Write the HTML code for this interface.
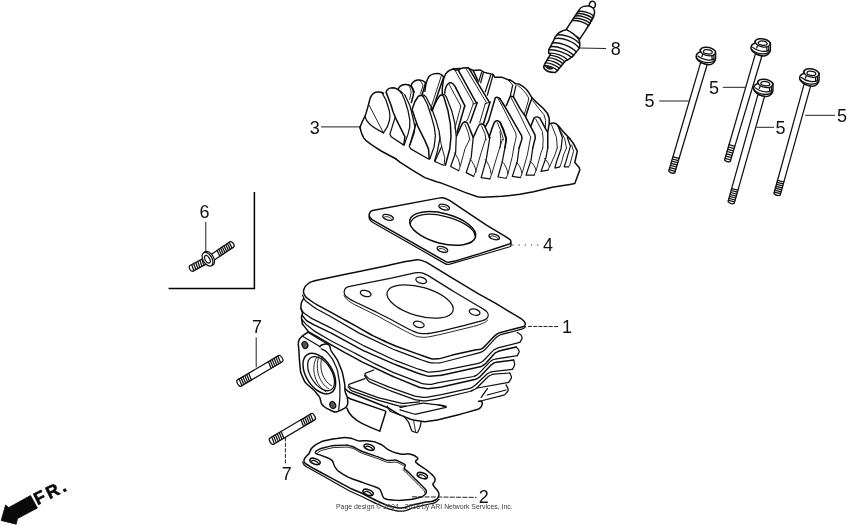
<!DOCTYPE html>
<html><head><meta charset="utf-8"><title>Cylinder</title>
<style>
html,body{margin:0;padding:0;background:#fff;}
body{width:850px;height:530px;overflow:hidden;}
svg{display:block;filter:grayscale(1);}
svg path, svg line, svg polyline, svg ellipse, svg circle, svg polygon{vector-effect:non-scaling-stroke;}
.ln{fill:none;stroke:#101010;stroke-width:1.25;stroke-linecap:round;stroke-linejoin:round;}
.lw{fill:#fff;stroke:#101010;stroke-width:1.25;stroke-linecap:round;stroke-linejoin:round;}
.tk{fill:none;stroke:#0c0c0c;stroke-width:1.5;stroke-linecap:round;stroke-linejoin:round;}
.tn{fill:none;stroke:#1c1c1c;stroke-width:0.95;stroke-linecap:round;stroke-linejoin:round;}
.th{fill:none;stroke:#222;stroke-width:0.8;stroke-linecap:round;stroke-linejoin:round;}
.ld{fill:none;stroke:#222;stroke-width:1;}
.lb{font-family:"Liberation Sans",sans-serif;font-size:18px;fill:#111;text-anchor:middle;}
.ft{font-family:"Liberation Sans",sans-serif;font-size:6.9px;fill:#3a3a3a;}
</style></head><body>
<svg width="850" height="530" viewBox="0 0 850 530">
<rect x="0" y="0" width="850" height="530" fill="#fff"/>
<g transform="translate(350,62) scale(0.124706)">
<!-- T tile (350,62) 8x : fin tops -->
<path class="tk" d="M78 529 L100 475 L122 432 L140 372 L158 305 C165 275 180 252 205 243 C225 238 250 240 268 250"/>
<path class="tk" d="M290 242 C295 220 315 207 340 206 C365 206 395 225 415 250"/>
<path class="tn" d="M340 206 C380 215 415 230 440 265"/>
<!-- fin 3 small -->
<path class="tk" d="M388 215 C395 195 415 182 440 180 C460 178 480 185 490 195 C505 215 512 240 508 265 L492 325"/>
<path class="tn" d="M468 182 C480 200 490 225 490 245 L478 300"/>
<!-- fin 4 small -->
<path class="tk" d="M490 192 C495 170 515 150 540 145 C565 140 590 150 605 165 L590 225 L578 262"/>
<path class="tn" d="M556 144 C572 158 582 175 585 190 L565 255"/>
<path class="tk" d="M490 192 C500 205 510 225 515 240"/>
<!-- fin 6 tall -->
<path class="tk" d="M600 235 C605 190 615 145 632 118 C650 95 690 88 720 95 C735 100 745 110 752 120"/>
<path class="tn" d="M735 103 L705 195 L655 350 L645 385"/>
<path class="tk" d="M752 120 L722 205 L672 355 L660 392"/>
<!-- fin 7 big central -->
<path class="tk" d="M740 262 C738 200 745 140 765 100 C780 75 810 58 850 55 L885 52"/>
<path class="tk" d="M760 250 C762 215 775 180 795 168 C815 160 835 180 850 210"/>
</g>
<g transform="translate(350,93) scale(0.124706)">
<!-- F tile (350,93) 8x -->
<path class="tk" d="M82 270 C82 290 85 310 110 360 C125 385 160 410 250 465 L370 529"/>
<path class="ln" d="M255 -5 L290 60 L315 140 C322 170 322 200 315 225 L300 270 L268 320"/>
<path class="tn" d="M155 100 L268 320"/>
<path class="ln" d="M120 188 C130 230 160 265 268 320"/>
<!-- fin 2 -->
<path class="tk" d="M290 -5 L330 100 L345 150 L375 220 L415 300 L440 350 L432 415"/>
<path class="ln" d="M362 195 L345 250 L320 330 L330 350 L432 418"/>
<path class="ln" d="M415 1 L440 60 L465 140 L480 220 L478 280 L465 330 L435 415"/>
<path class="ln" d="M440 16 L480 100 L505 200 L520 270 L515 320 L480 420"/>
<!-- fin 5 -->
<path class="tk" d="M590 32 C580 18 560 15 545 30 L520 70 L498 130 L520 200 L545 270 L600 380 L630 450 L635 529"/>
<path class="ln" d="M530 245 L475 430 L490 450 L630 529"/>
<path class="ln" d="M590 32 L620 90 L650 180 L675 270 L685 340 L675 430 L640 529"/>
<path class="ln" d="M570 18 C585 12 600 18 610 32 L650 110 L690 220 L715 310 L722 360 L700 470 L678 545"/>
<!-- fin 8 -->
<path class="tk" d="M655 140 L700 50 L720 22 C730 12 745 15 752 30 L785 140 L805 250 L810 349 L800 449 L765 579"/>
<path class="ln" d="M735 14 C750 8 765 15 772 30 L815 140 L840 240 L852 349 L847 479 L807 589 L872 624"/>
<path class="ln" d="M735 429 L680 549 L750 579"/>
<path class="tn" d="M715 330 L735 430 L760 519 L755 579"/>
</g>
<g transform="translate(350,124) scale(0.124706)">
<!-- E tile (350,124) 8x -->
<path class="tk" d="M370 282 L400 305 L500 370 L600 430 L700 465 L722 470"/>
</g>

<g transform="translate(440,62) scale(0.083037)">
<!-- 12x tile A -->
<path class="tk" d="M160 78 L183 97 L228 97 C240 82 255 75 275 73 L340 70 L352 82 L400 103 L480 95 L535 125 L640 150 L660 185 L750 185 L843 222"/>
<path class="tn" d="M180 98 L395 480 L400 506"/>
<path class="tk" d="M225 108 L430 480 L447 491"/>
<path class="tn" d="M320 90 L560 490 L545 501"/>
<path class="tk" d="M352 82 L590 478 L602 484"/>
<path class="tk" d="M193 318 L300 529 L295 539"/>
<path class="tn" d="M110 270 L250 529"/>
<path class="tk" d="M400 105 L455 220"/>
<path class="ln" d="M500 128 L465 240"/>
<path class="ln" d="M522 128 L490 250"/>
<path class="ln" d="M610 160 L545 360"/>
<path class="ln" d="M637 163 L570 400"/>
</g>
<g transform="translate(440,96) scale(0.083037)">
<!-- 12x tile B -->
<path class="tk" d="M295 130 L205 440"/>
<path class="tn" d="M250 125 L180 388"/>
<path class="tn" d="M400 97 L447 82"/>
<path class="tn" d="M400 97 L330 292 L290 318"/>
<path class="tk" d="M447 82 L362 322"/>
<path class="tn" d="M545 92 L602 75"/>
<path class="tn" d="M545 92 L478 322"/>
<path class="tk" d="M602 75 L525 332"/>
<path class="tk" d="M545 372 L585 300 L665 25 C675 12 700 10 720 30"/>
<path class="tn" d="M692 18 L736 98"/>
<path class="tk" d="M720 30 L762 98"/>
<path class="tk" d="M200 480 C230 420 255 350 275 325 C290 312 315 312 330 328 C350 370 375 440 400 500"/>
<path class="tn" d="M300 340 L340 440 L360 529"/>
<path class="tk" d="M400 500 C430 440 455 370 475 345 C490 330 520 335 535 355 C555 400 580 460 600 500"/>
<path class="tn" d="M500 360 L540 450 L555 529"/>
<path class="tk" d="M590 500 C610 440 640 340 660 310 C680 290 710 295 725 320 C750 380 780 460 800 529"/>
<path class="tn" d="M690 320 L740 440 L765 529"/>
</g>

<g transform="translate(500,70) scale(0.083037)">
<!-- 12x tile C -->
<path class="tk" d="M115 117 L140 130 L190 167 L230 170 C270 190 320 230 345 270 L385 335 L440 390 L520 460 L570 520 C590 560 600 600 592 645 L578 735"/>
<path class="tn" d="M90 108 L152 182"/>
<path class="ln" d="M152 185 L125 312"/>
<path class="ln" d="M192 188 L162 320"/>
<path class="tk" d="M162 322 L125 315 L75 430"/>
<path class="tn" d="M215 188 C260 215 310 270 345 335 L340 375 L292 535"/>
<path class="tk" d="M385 340 L350 430 L312 555"/>
<path class="tk" d="M162 325 L250 480 L300 550 L420 778 L425 818 L395 938"/>
<path class="tn" d="M135 335 L235 529 L370 809"/>
<path class="tn" d="M395 370 L470 468 L530 538 L550 608 L545 700"/>
</g>
<g transform="translate(500,104) scale(0.083037)">
<!-- 12x tile D -->
<path class="tk" d="M600 240 C620 228 645 222 670 235 L700 260 L760 330 L843 420"/>
<path class="tn" d="M14 0 L190 350 L195 400 L165 529"/>
<path class="tk" d="M40 0 L260 380 L265 420 L230 529"/>
<path class="tk" d="M370 270 L410 170 C420 155 450 150 480 170 L550 300 L575 340 L575 529"/>
<path class="tn" d="M430 180 L510 330 L520 420 L515 529"/>
<path class="tk" d="M0 220 L40 300 L75 410 L60 529"/>
<path class="tn" d="M0 330 L10 420 L0 529"/>
<path class="tn" d="M620 250 L680 400 L690 529"/>
<path class="tn" d="M700 270 L780 420 L800 529"/>
</g>

<g transform="translate(440,124) scale(0.124706)">
<!-- G tile (440,124) 8x : bottom row feet -->
<path class="tk" d="M0 470 L100 508 L200 548 L300 583 L340 588 L500 580 L640 563 L750 543 L850 519 L900 508 L1041 485 L1081 478 L1121 368 L1116 348 L1081 308 L1101 218 L1071 158 L1042 119"/>
<!-- fin A -->
<path class="tn" d="M237 125 L200 200 L165 330 L150 375"/>
<path class="ln" d="M266 112 L250 270 L210 390 L270 420"/>
<path class="tn" d="M115 230 C135 255 155 290 160 335"/>
<!-- fin B -->
<path class="tn" d="M365 122 L330 230 L290 370 L270 420"/>
<path class="ln" d="M400 108 L370 290 L330 430 L400 440"/>
<path class="tn" d="M240 280 C262 305 285 340 290 385"/>
<!-- fin C -->
<path class="tn" d="M500 125 L460 250 L415 400 L400 440"/>
<path class="ln" d="M533 125 L500 300 L465 425 L530 435"/>
<path class="tn" d="M362 285 C385 310 405 350 410 400"/>
<!-- fin D -->
<path class="tn" d="M591 192 L580 260 L545 400 L530 435"/>
<path class="ln" d="M634 192 L620 300 L580 420 L645 430"/>
<path class="tn" d="M497 300 C520 320 540 360 545 400"/>
<!-- fin E -->
<path class="tn" d="M727 106 L700 250 L660 390 L645 430"/>
<path class="ln" d="M744 192 L730 290 L690 410 L755 410"/>
<path class="tn" d="M612 308 C635 325 652 360 657 395"/>
<!-- fin F -->
<path class="tn" d="M824 192 L810 230 L775 360 L755 410"/>
<path class="ln" d="M864 192 L850 270 L810 380 L866 370"/>
<path class="tn" d="M722 298 C745 315 765 345 770 372"/>
<!-- fin G' -->
<path class="tn" d="M940 192 L921 248 L881 338 L866 370"/>
<path class="ln" d="M947 19 L981 108 L971 198 L936 298 L921 353 L961 343"/>
<path class="tn" d="M836 275 C855 290 875 320 878 345"/>
<!-- fin H' -->
<path class="tn" d="M1014 192 L991 248 L971 318 L961 343"/>
<path class="ln" d="M1021 108 L1046 178 L1011 298 L996 343 L1031 343"/>
<!-- fin I' -->
<path class="tn" d="M1056 168 L1071 218 L1041 328 L1031 343"/>
</g>

<g transform="translate(360,195) scale(0.124706)">
<path class="tk" style="stroke-width:1.5" d="M100 125 L630 25 C650 20 675 22 690 30 L721 45 L861 140 L1011 240 L1161 330 L1201 355 C1212 365 1214 380 1201 392 L1161 405 L961 470 L761 530 L711 540 C700 542 690 535 681 530 L100 200 C80 188 70 170 75 150 C80 135 90 128 100 125 Z"/>
<path class="ln" d="M72 175 C75 195 85 210 100 218 L681 550 C690 555 705 558 721 555 L961 485 L1201 415 C1210 410 1214 395 1211 385"/>
<g transform="translate(663,268) rotate(14.6)">
<ellipse class="tk" style="stroke-width:1.5" cx="0" cy="0" rx="272" ry="120"/>
<path class="ln" d="M-262 28 C-262 -50 -150 -98 0 -98 C150 -98 250 -60 264 -10"/>
</g>
<g transform="translate(225,180) rotate(18)"><ellipse class="ln" cx="0" cy="0" rx="44" ry="21"/><path class="tn" d="M-30 8 C-25 -8 20 -10 34 6"/></g>
<g transform="translate(675,97) rotate(18)"><ellipse class="ln" cx="0" cy="0" rx="44" ry="21"/><path class="tn" d="M-30 8 C-25 -8 20 -10 34 6"/></g>
<g transform="translate(1076,335) rotate(18)"><ellipse class="ln" cx="0" cy="0" rx="44" ry="21"/><path class="tn" d="M-30 8 C-25 -8 20 -10 34 6"/></g>
<g transform="translate(661,436) rotate(18)"><ellipse class="ln" cx="0" cy="0" rx="44" ry="21"/><path class="tn" d="M-30 8 C-25 -8 20 -10 34 6"/></g>
</g>

<path class="lw" d="M755.4 53.9 L724.6 160.0 Q727.0 162.9 730.3 161.4 L761.9 56.0 Z"/>
<path class="th" style="stroke-width:1.25;stroke:#111" d="M729.0 144.7 L734.8 146.3 M728.4 147.0 L734.1 148.6 M727.7 149.3 L733.5 150.9 M727.1 151.5 L732.8 153.1 M726.4 153.8 L732.1 155.4 M725.7 156.1 L731.4 157.7 M725.1 158.4 L730.7 160.0"/>
<g transform="translate(739.80,29.30) scale(0.06235)">
<path class="lw" style="stroke-width:1.5" d="M180 295 C180 260 210 235 245 225 L245 190 C260 160 300 148 340 150 C400 152 460 180 488 215 C495 235 492 250 490 260 L490 330 C488 370 450 425 390 428 C330 430 230 390 195 340 C180 320 178 305 180 295 Z"/>
<path class="ln" d="M295 215 C300 185 350 180 400 195 C440 208 450 235 425 250 C400 262 340 258 310 240 C295 230 293 222 295 215 Z"/>
<path class="ln" d="M245 190 C250 230 280 260 330 275 C380 288 430 290 460 272 C480 260 490 245 488 215"/>
<path class="ln" d="M205 290 C240 320 300 345 350 352 C400 358 440 350 465 338"/>
<path class="ln" d="M185 318 C220 358 300 388 350 394 C400 400 450 388 482 352"/>
<path class="ln" d="M432 287 L436 345 M462 272 L466 335 M285 262 L270 300"/>
</g>
<path class="lw" d="M700.6 62.6 L668.7 171.2 Q671.2 174.2 674.8 172.8 L707.1 64.7 Z"/>
<path class="th" style="stroke-width:1.25;stroke:#111" d="M672.9 156.8 L679.1 158.4 M672.3 159.0 L678.4 160.6 M671.7 161.1 L677.8 162.7 M671.0 163.3 L677.2 164.9 M670.4 165.4 L676.5 167.0 M669.8 167.6 L675.9 169.2 M669.1 169.7 L675.2 171.3"/>
<g transform="translate(685.00,38.00) scale(0.06235)">
<path class="lw" style="stroke-width:1.5" d="M180 295 C180 260 210 235 245 225 L245 190 C260 160 300 148 340 150 C400 152 460 180 488 215 C495 235 492 250 490 260 L490 330 C488 370 450 425 390 428 C330 430 230 390 195 340 C180 320 178 305 180 295 Z"/>
<path class="ln" d="M295 215 C300 185 350 180 400 195 C440 208 450 235 425 250 C400 262 340 258 310 240 C295 230 293 222 295 215 Z"/>
<path class="ln" d="M245 190 C250 230 280 260 330 275 C380 288 430 290 460 272 C480 260 490 245 488 215"/>
<path class="ln" d="M205 290 C240 320 300 345 350 352 C400 358 440 350 465 338"/>
<path class="ln" d="M185 318 C220 358 300 388 350 394 C400 400 450 388 482 352"/>
<path class="ln" d="M432 287 L436 345 M462 272 L466 335 M285 262 L270 300"/>
</g>
<path class="lw" d="M758.0 94.4 L728.0 201.7 Q730.6 204.8 734.2 203.4 L764.5 96.5 Z"/>
<path class="th" style="stroke-width:1.25;stroke:#111" d="M731.7 188.6 L737.9 190.2 M731.1 190.5 L737.4 192.1 M730.6 192.5 L736.8 194.1 M730.0 194.5 L736.3 196.1 M729.5 196.4 L735.7 198.0 M728.9 198.4 L735.2 200.0 M728.4 200.3 L734.6 201.9"/>
<g transform="translate(742.40,69.80) scale(0.06235)">
<path class="lw" style="stroke-width:1.5" d="M180 295 C180 260 210 235 245 225 L245 190 C260 160 300 148 340 150 C400 152 460 180 488 215 C495 235 492 250 490 260 L490 330 C488 370 450 425 390 428 C330 430 230 390 195 340 C180 320 178 305 180 295 Z"/>
<path class="ln" d="M295 215 C300 185 350 180 400 195 C440 208 450 235 425 250 C400 262 340 258 310 240 C295 230 293 222 295 215 Z"/>
<path class="ln" d="M245 190 C250 230 280 260 330 275 C380 288 430 290 460 272 C480 260 490 245 488 215"/>
<path class="ln" d="M205 290 C240 320 300 345 350 352 C400 358 440 350 465 338"/>
<path class="ln" d="M185 318 C220 358 300 388 350 394 C400 400 450 388 482 352"/>
<path class="ln" d="M432 287 L436 345 M462 272 L466 335 M285 262 L270 300"/>
</g>
<path class="lw" d="M804.1 84.1 L773.9 193.5 Q776.5 196.5 780.2 195.1 L810.6 86.2 Z"/>
<path class="th" style="stroke-width:1.25;stroke:#111" d="M777.5 180.4 L783.9 182.0 M777.0 182.3 L783.3 183.9 M776.4 184.3 L782.8 185.9 M775.9 186.3 L782.2 187.9 M775.4 188.2 L781.7 189.8 M774.8 190.2 L781.1 191.8 M774.3 192.1 L780.6 193.7"/>
<g transform="translate(788.50,59.50) scale(0.06235)">
<path class="lw" style="stroke-width:1.5" d="M180 295 C180 260 210 235 245 225 L245 190 C260 160 300 148 340 150 C400 152 460 180 488 215 C495 235 492 250 490 260 L490 330 C488 370 450 425 390 428 C330 430 230 390 195 340 C180 320 178 305 180 295 Z"/>
<path class="ln" d="M295 215 C300 185 350 180 400 195 C440 208 450 235 425 250 C400 262 340 258 310 240 C295 230 293 222 295 215 Z"/>
<path class="ln" d="M245 190 C250 230 280 260 330 275 C380 288 430 290 460 272 C480 260 490 245 488 215"/>
<path class="ln" d="M205 290 C240 320 300 345 350 352 C400 358 440 350 465 338"/>
<path class="ln" d="M185 318 C220 358 300 388 350 394 C400 400 450 388 482 352"/>
<path class="ln" d="M432 287 L436 345 M462 272 L466 335 M285 262 L270 300"/>
</g>
<g transform="translate(530,0) scale(0.124706)">
<!-- terminal nub -->
<path class="lw" style="stroke-width:1.5" d="M478 58 C470 35 478 14 498 10 C518 8 528 25 524 45 C522 55 516 62 510 66 Z"/>
<!-- insulator -->
<path class="lw" style="stroke-width:1.5" d="M395 78 C405 55 440 45 470 48 C500 52 518 75 518 100 C515 130 500 155 440 252 L400 312 L290 238 C320 190 360 130 395 78 Z"/>
<path class="ln" style="stroke-width:1.4" d="M388 92 C420 85 480 100 512 128"/>
<path class="ln" style="stroke-width:1.4" d="M378 110 C410 104 470 120 505 148"/>
<path class="ln" style="stroke-width:1.4" d="M368 128 C400 122 460 140 495 168"/>
<path class="ln" style="stroke-width:1.4" d="M356 147 C390 142 450 160 484 188"/>
<path class="ln" style="stroke-width:1.4" d="M345 165 C378 160 440 180 472 206"/>
<!-- hex body -->
<path class="lw" style="stroke-width:1.5" d="M290 238 C260 245 230 260 215 278 C200 295 195 305 192 320 L150 400 L150 428 L165 432 L115 520 L110 542 C120 565 150 580 200 582 L215 572 L285 487 L300 482 L340 455 L395 388 C402 360 402 335 390 312 C370 290 330 255 290 238 Z"/>
<path class="ln" style="stroke-width:1.4" d="M215 282 C260 270 350 300 392 345"/>
<path class="ln" style="stroke-width:1.4" d="M200 310 C250 295 350 330 395 385"/>
<path class="ln" style="stroke-width:1.4" d="M180 345 C230 335 330 370 372 418"/>
<path class="ln" style="stroke-width:1.4" d="M165 375 C210 365 310 400 350 445"/>
<path class="ln" style="stroke-width:1.4" d="M152 400 C200 392 290 425 335 460"/>
<path class="ln" style="stroke-width:1.4" d="M150 428 C190 420 270 445 300 482"/>
<!-- threads -->
<path class="ln" style="stroke-width:1.4" d="M158 445 C190 440 250 465 278 495"/>
<path class="ln" style="stroke-width:1.4" d="M146 465 C178 460 238 485 264 512"/>
<path class="ln" style="stroke-width:1.4" d="M134 485 C166 480 224 505 250 530"/>
<path class="ln" style="stroke-width:1.4" d="M122 505 C154 500 210 525 236 548"/>
<path class="ln" style="stroke-width:1.4" d="M112 528 C144 522 198 545 222 565"/>
<path d="M125 535 C140 528 170 535 185 548 C175 560 140 558 125 535 Z" fill="#222" stroke="#222" stroke-width="1"/>
</g>

<path class="tk" style="fill:#fff" d="M303.7 290.1 L304.4 288.1 Q305.0 286.2 306.6 285.0 L308.4 283.5 Q310.0 282.3 311.9 281.6 L313.0 281.3 Q314.9 280.6 316.9 280.2 L350.4 273.2 Q352.4 272.8 354.4 272.4 L388.0 265.4 Q390.0 265.0 392.0 264.6 L405.5 261.6 Q407.5 261.2 409.5 260.9 L416.7 259.8 Q418.7 259.5 420.6 260.1 L424.3 261.4 Q426.2 262.0 427.9 263.1 L450.7 277.1 Q452.4 278.2 454.1 279.2 L475.6 292.2 Q477.3 293.2 479.0 294.2 L494.4 302.7 Q496.1 303.7 497.8 304.7 L513.1 313.9 Q514.8 314.9 516.5 315.9 L520.6 318.3 Q522.3 319.3 523.6 320.8 L524.3 321.5 Q525.6 323.0 525.2 324.6 L525.2 324.6 Q524.8 326.2 522.9 326.7 L516.7 328.2 Q514.8 328.7 512.9 329.2 L500.5 332.5 Q498.6 333.0 496.9 334.1 L496.6 334.4 Q494.9 335.5 493.5 337.0 L485.0 345.9 Q483.6 347.4 482.4 348.3 L482.4 348.3 Q481.2 349.2 479.2 349.4 L478.0 349.6 Q476.0 349.8 474.0 350.2 L454.5 354.6 Q452.5 355.0 450.6 355.6 L441.7 358.1 Q439.8 358.7 437.8 358.8 L434.4 359.1 Q432.4 359.2 430.5 358.5 L421.8 355.5 Q419.9 354.8 418.0 354.1 L396.9 346.5 Q395.0 345.8 393.2 345.0 L386.8 342.2 Q385.0 341.4 383.2 340.5 L373.3 335.9 Q371.5 335.0 369.8 334.0 L361.7 329.3 Q360.0 328.3 358.3 327.3 L345.8 320.5 Q344.1 319.5 342.3 318.6 L333.3 313.6 Q331.5 312.7 329.7 311.7 L316.7 304.6 Q314.9 303.6 313.3 302.5 L307.1 298.1 Q305.5 297.0 304.6 295.2 L304.0 293.8 Q303.1 292.0 303.7 290.1 Z"/>
<path class="ln"  d="M302.5 295.0 L303.8 298.1 Q304.5 300.0 306.1 301.2 L313.3 306.8 Q314.9 308.0 316.7 309.0 L329.7 316.0 Q331.5 317.0 333.2 318.0 L358.3 332.6 Q360.0 333.6 361.8 334.4 L393.2 349.2 Q395.0 350.0 396.9 350.7 L418.0 358.6 Q419.9 359.3 421.8 360.0 L428.0 362.2 Q429.9 362.9 431.9 362.9 L437.8 363.0 Q439.8 363.0 441.7 362.5 L463.0 357.0 Q464.9 356.5 466.8 356.0 L474.1 354.2 Q476.0 353.7 477.9 353.1 L480.5 352.3 Q482.4 351.7 483.6 350.8 L483.6 350.8 Q484.9 349.9 486.2 348.4 L494.8 338.9 Q496.1 337.4 497.8 336.3 L498.2 336.0 Q499.9 334.9 501.8 334.4 L521.7 329.2 Q523.6 328.7 524.6 327.6 L525.6 326.6"/>
<path class="ln"  d="M344.5 290.3 L344.6 289.8 Q345.5 287.5 347.7 286.9 L347.7 286.9 Q349.9 286.3 352.4 285.8 L362.3 283.8 Q364.8 283.3 367.3 282.8 L387.5 278.9 Q390.0 278.4 392.4 277.9 L412.5 273.3 Q414.9 272.8 417.4 272.6 L418.7 272.6 Q421.2 272.4 423.5 273.4 L425.1 274.1 Q427.4 275.1 429.5 276.4 L450.3 289.4 Q452.4 290.7 454.5 292.0 L475.2 304.3 Q477.3 305.6 479.5 306.8 L483.8 309.4 Q486.0 310.6 487.4 312.5 L487.4 312.5 Q488.8 314.4 488.1 316.2 L488.1 316.2 Q487.3 318.1 486.1 319.0 L486.1 319.0 Q484.9 319.9 482.5 320.6 L467.3 324.6 Q464.9 325.3 462.5 325.9 L442.4 330.8 Q440.0 331.4 437.5 331.9 L431.1 333.1 Q428.6 333.6 426.1 333.6 L422.4 333.6 Q419.9 333.6 417.5 332.8 L413.6 331.3 Q411.2 330.5 409.0 329.3 L395.9 322.2 Q393.7 321.0 391.5 319.8 L379.5 313.7 Q377.3 312.5 375.0 311.4 L354.7 301.8 Q352.4 300.7 350.3 299.4 L347.6 297.6 Q345.5 296.3 344.6 294.5 L344.6 294.5 Q343.6 292.6 344.5 290.3 Z"/>
<path class="tn"  d="M344.0 295.4 L345.2 297.4 Q346.5 299.4 348.6 300.8 L350.3 302.1 Q352.4 303.5 354.6 304.6 L375.1 314.7 Q377.3 315.8 379.5 317.0 L384.0 319.6 Q386.2 320.8 388.4 322.0 L405.2 331.1 Q407.4 332.3 409.7 333.3 L415.1 335.9 Q417.4 336.9 419.9 337.0 L423.6 337.3 Q426.1 337.4 428.6 336.9 L437.5 335.1 Q440.0 334.6 442.4 334.0 L473.6 326.4 Q476.0 325.8 478.4 325.0 L482.5 323.4 Q484.9 322.6 486.3 321.3 L487.7 320.0"/>
<g transform="translate(420.1,301.5) rotate(15.9)"><ellipse class="ln" cx="0" cy="0" rx="34.2" ry="14.4"/></g>
<g transform="translate(365.7,293.5) rotate(15)"><ellipse class="ln" cx="0" cy="0" rx="5.5" ry="3"/></g>
<g transform="translate(421.2,280.3) rotate(15)"><ellipse class="ln" cx="0" cy="0" rx="5.5" ry="3"/></g>
<g transform="translate(474.6,312.1) rotate(15)"><ellipse class="ln" cx="0" cy="0" rx="5.5" ry="3"/></g>
<g transform="translate(418.8,324.4) rotate(15)"><ellipse class="ln" cx="0" cy="0" rx="5.5" ry="3"/></g>
<path class="tk"  d="M303.5 298.5 L301.9 301.7 Q301.2 303.0 301.1 304.5 L300.9 306.8 Q300.8 308.3 301.3 309.7 L302.6 313.0"/>
<path class="ln"  d="M300.8 308.3 L302.5 311.2 Q303.3 312.5 304.5 313.4 L309.6 317.0 Q310.8 317.9 312.1 318.6 L330.2 327.6 Q331.5 328.3 332.8 329.0 L361.9 344.8 Q363.2 345.5 364.6 346.1 L393.6 359.7 Q395.0 360.3 396.4 360.8 L416.6 368.5 Q418.0 369.0 419.4 369.4 L427.1 371.9 Q428.5 372.3 430.0 372.2 L438.5 371.3 Q440.0 371.2 441.5 370.9 L478.4 363.4 Q479.9 363.1 481.1 362.3 L482.4 361.4 Q483.6 360.6 484.6 359.5 L492.6 351.1 Q493.6 350.0 494.9 349.3 L496.1 348.8 Q497.4 348.1 498.9 347.7 L519.8 342.4"/>
<path class="tk" style="stroke-width:1.5" d="M302.5 315.8 L305.6 319.6 Q306.6 320.8 307.9 321.5 L313.6 324.6 Q314.9 325.3 316.3 325.9 L328.6 331.9 Q330.0 332.5 331.3 333.2 L361.9 349.8 Q363.2 350.5 364.6 351.1 L393.6 363.9 Q395.0 364.5 396.4 365.0 L416.6 372.8 Q418.0 373.3 419.4 373.7 L426.6 375.9 Q428.0 376.3 429.5 376.2 L438.5 375.6 Q440.0 375.5 441.5 375.2 L479.0 367.1 Q480.5 366.8 481.8 366.1 L483.6 365.0 Q484.9 364.3 485.9 363.2 L493.9 354.2 Q494.9 353.1 496.2 352.4 L497.3 351.9 Q498.6 351.2 500.1 350.8 L516.1 346.9"/>
<path class="ln"  d="M517.3 332.4 L519.4 333.8 Q521.1 334.9 521.8 336.4 L521.8 336.4 Q522.5 338.0 521.5 339.7 L519.8 342.4"/>
<path class="tk"  d="M302.6 313.0 L301.8 315.6 Q301.3 317.0 301.5 318.2 L301.5 318.2 Q301.6 319.5 301.9 321.0 L302.6 324.5"/>
<path class="ln"  d="M301.6 319.1 L305.6 323.8 Q306.6 324.9 307.8 325.8 L313.7 330.4 Q314.9 331.3 316.2 332.1 L328.7 339.5 Q330.0 340.3 331.3 341.0 L353.6 352.5 Q354.9 353.2 356.2 353.9 L371.9 362.3 Q373.2 363.0 374.6 363.6 L393.6 372.6 Q395.0 373.2 396.4 373.7 L421.0 383.2 Q422.4 383.7 423.9 383.9 L428.4 384.4 Q429.9 384.6 431.4 384.3 L438.5 382.7 Q440.0 382.4 441.5 382.1 L473.4 376.5 Q474.9 376.2 476.2 375.4 L477.4 374.5 Q478.7 373.7 479.7 372.6 L488.9 362.9 Q489.9 361.8 491.1 361.0 L492.4 360.1 Q493.6 359.3 495.1 359.1 L517.3 355.6"/>
<path class="tk" style="stroke-width:1.5" d="M302.5 324.1 L307.4 330.4 Q308.3 331.6 309.6 332.4 L313.6 334.7 Q314.9 335.5 316.2 336.2 L328.7 343.4 Q330.0 344.1 331.3 344.8 L345.3 352.8 Q346.6 353.5 347.9 354.2 L361.9 361.8 Q363.2 362.5 364.6 363.1 L393.6 376.7 Q395.0 377.3 396.4 377.9 L418.6 387.0 Q420.0 387.6 421.5 387.8 L426.5 388.6 Q428.0 388.8 429.5 388.6 L438.5 387.6 Q440.0 387.4 441.5 387.1 L474.7 379.6 Q476.2 379.3 477.4 378.5 L478.7 377.6 Q479.9 376.8 480.9 375.7 L490.1 366.0 Q491.1 364.9 492.4 364.1 L493.6 363.2 Q494.9 362.4 496.4 362.2 L513.6 360.0"/>
<path class="ln"  d="M516.1 346.9 L518.5 349.7 Q519.8 351.2 518.8 352.9 L517.3 355.6"/>
<path class="ln"  d="M373.7 370.0 L365.7 373.2 Q364.3 373.7 365.3 374.8 L367.7 377.6 Q368.7 378.7 370.1 379.3 L388.5 386.8 Q389.9 387.4 391.3 387.9 L413.4 395.7 Q414.8 396.2 416.3 396.4 L423.3 397.4 Q424.8 397.6 426.3 397.3 L438.5 395.2 Q440.0 394.9 441.5 394.6 L469.7 388.3 Q471.2 388.0 472.4 387.2 L473.7 386.3 Q474.9 385.5 476.0 384.5 L486.3 374.7 Q487.4 373.7 488.7 373.0 L489.8 372.5 Q491.1 371.8 492.6 371.6 L512.3 369.3"/>
<path class="ln"  d="M364.6 375.6 L367.7 380.2 Q368.5 381.5 369.9 382.1 L388.5 390.0 Q389.9 390.6 391.3 391.1 L413.4 399.1 Q414.8 399.6 416.3 399.8 L423.3 400.8 Q424.8 401.0 426.3 400.8 L438.5 398.8 Q440.0 398.6 441.5 398.2 L469.7 391.5 Q471.2 391.1 472.5 390.4 L474.9 389.3 Q476.2 388.6 477.3 387.5 L487.5 377.3 Q488.6 376.2 489.9 375.5 L491.1 375.0 Q492.4 374.3 493.9 374.2 L509.8 373.0"/>
<path class="ln"  d="M513.6 360.0 L514.5 363.0 Q515.0 364.9 514.0 366.6 L512.3 369.3"/>
<path class="ln"  d="M509.8 373.0 L511.0 375.6 Q511.9 377.4 510.8 379.1 L508.6 382.4"/>
<path class="ln"  d="M364.9 378.7 L349.5 384.1 Q348.1 384.6 348.9 385.8 L349.2 386.2 Q350.0 387.4 351.4 387.9 L376.0 396.9 Q377.4 397.4 378.9 397.8 L400.9 403.2 Q402.4 403.6 403.9 403.4 L419.8 401.8"/>
<path class="ln"  d="M348.1 386.8 L350.3 389.4 Q351.2 390.6 352.6 391.1 L376.0 399.4 Q377.4 399.9 378.8 400.3 L398.5 405.9 Q399.9 406.3 401.4 406.2 L406.0 406.0"/>
<path class="ln"  d="M400.0 407.6 L405.2 406.4 Q406.2 406.2 407.2 406.0 L421.4 403.3 Q422.4 403.1 423.4 403.2 L443.6 405.6"/>
<path class="ln"  d="M400.0 409.9 L414.0 414.0 Q415.0 414.3 416.0 414.1 L446.1 407.4"/>
<path d="M437.4 404.6 L446.3 406 L446 407.6 Z" fill="#111" stroke="#111" stroke-width="0.8"/>
<path class="ln"  d="M477.4 388.0 L508.6 382.4"/>
<path class="ln"  d="M506.1 384.9 L507.8 388.1 Q508.8 389.9 507.6 391.5 L506.0 393.3 Q504.8 394.9 502.9 395.4 L478.7 401.5"/>
<path class="ln"  d="M487.3 395.0 L506.0 390.0"/>
<path class="ln"  d="M487.4 388.6 L481.2 397.4"/>
<path class="tk"  d="M344.9 388.7 L348.3 391.3 Q349.9 392.5 351.8 393.2 L385.4 406.7 Q387.3 407.4 389.0 408.4 L398.1 413.9 Q399.8 414.9 401.7 415.6 L410.6 419.2 Q412.5 419.9 414.5 420.2 L422.9 421.5 Q424.9 421.8 426.9 421.5 L435.4 420.2 Q437.4 419.9 439.3 419.4 L460.5 414.2 Q462.4 413.7 464.3 413.1 L477.9 409.3 Q479.8 408.7 480.9 407.0 L481.2 406.7 Q482.3 405.0 482.3 403.1 L482.3 403.1 Q482.3 401.2 480.5 401.2 L478.6 401.2"/>
<path class="ln"  d="M403.7 416.2 L407.8 421.2 Q408.7 422.4 409.2 423.8 L411.3 429.7 Q411.8 431.1 413.2 431.6 L416.1 432.5 Q417.5 433.0 418.1 431.6 L419.4 428.8 Q420.0 427.4 420.3 425.9 L421.2 421.8"/>
<path class="tn"  d="M413.7 421.2 L415.6 431.8"/>
<path class="ln"  d="M387.3 406.2 L389.4 410.3 Q389.8 411.2 390.7 411.5 L399.8 414.9"/>
<path class="tk"  d="M348.0 397.5 L349.1 398.2 Q349.9 398.7 350.8 399.0 L385.1 410.9 Q386.0 411.2 385.7 412.2 L379.8 431.1"/>
<path class="tk" d="M346.8 408.1 C349 415 355 420 362.4 423.7 C368 426.5 374 429 379.8 431.1"/>
<path class="tk"  d="M308.3 332.0 L304.2 334.6 Q302.5 335.7 301.1 337.2 L300.3 338.0 Q298.9 339.5 298.6 341.5 L298.5 342.0 Q298.2 344.0 298.4 345.8 L298.4 345.8 Q298.7 347.5 298.8 349.5 L299.3 357.9 Q299.4 359.9 299.6 361.9 L300.4 370.4 Q300.6 372.4 301.4 374.2 L304.2 380.6 Q305.0 382.4 306.5 383.7 L313.4 389.8 Q314.9 391.1 316.1 392.7 L318.8 395.9 Q320.0 397.5 320.4 399.5 L320.8 401.7 Q321.2 403.7 322.6 405.1 L323.5 406.0 Q324.9 407.4 326.7 408.3 L333.1 411.5 Q334.9 412.4 336.8 411.8 L336.8 411.8 Q338.7 411.2 340.5 410.3 L344.3 408.3 Q346.1 407.4 347.0 405.6 L347.1 405.5 Q348.0 403.7 347.8 401.7 L347.6 399.5 Q347.4 397.5 346.7 395.6 L345.6 393.1 Q344.9 391.2 344.9 389.2 L344.9 386.9 Q344.9 384.9 344.5 382.9 L342.8 374.4 Q342.4 372.4 341.7 370.5 L338.1 361.8 Q337.4 359.9 336.3 358.3 L331.6 351.6 Q330.5 350.0 330.2 348.0 L330.2 347.6 Q329.9 345.6 328.6 344.6 L328.6 344.6 Q327.4 343.7 325.4 344.1 L323.2 344.6 Q321.2 345.0 320.5 345.9 L319.9 346.8"/>
<path class="ln"  d="M308.3 332.4 L322.3 341.0 Q323.2 341.5 324.1 342.0 L327.4 343.9"/>
<path class="ln"  d="M302.5 336.2 L319.9 346.5"/>
<path class="ln"  d="M321.2 348.7 L324.0 350.1 Q326.2 351.2 327.8 353.1 L330.8 356.8 Q332.4 358.7 333.4 361.0 L336.4 367.6 Q337.4 369.9 337.8 372.4 L339.5 382.4 Q339.9 384.9 339.9 387.4 L339.9 395.0 Q339.9 397.5 339.7 400.0 L338.7 409.9"/>
<ellipse cx="305.0" cy="345.0" rx="2.8" ry="3.6" transform="rotate(-25 305.0 345.0)" fill="#555" stroke="#111" stroke-width="1.3"/>
<ellipse cx="332.7" cy="405.0" rx="2.8" ry="3.6" transform="rotate(-25 332.7 405.0)" fill="#555" stroke="#111" stroke-width="1.3"/>
<g transform="translate(319.3,373.6) rotate(58)"><ellipse class="tk" cx="0" cy="0" rx="22.5" ry="13.2"/><ellipse class="ln" cx="1" cy="-1.5" rx="19" ry="10.5"/><path class="tn" d="M-15 -6 C-8 6 8 9 19 4"/><path class="tn" d="M-15 -9 C-6 2 8 5 18 0"/><path class="tn" d="M-13 -11.5 C-5 -2 8 1 17 -4"/></g>
<path class="tk" style="stroke-width:1.5" d="M304.8 458.2 L305.1 457.9 Q306.2 456.2 307.8 454.9 L307.8 454.9 Q309.3 453.7 309.9 451.8 L310.0 451.2 Q310.6 449.3 312.0 447.9 L313.6 446.4 Q315.0 445.0 316.8 444.1 L320.6 442.1 Q322.4 441.2 324.4 440.8 L332.9 439.1 Q334.9 438.7 336.9 438.5 L342.9 437.7 Q344.9 437.5 346.9 437.7 L349.1 437.9 Q351.1 438.1 352.9 438.9 L356.8 440.4 Q358.6 441.2 360.6 441.0 L362.8 440.8 Q364.8 440.6 366.8 440.8 L372.8 441.6 Q374.8 441.8 376.6 442.6 L380.5 444.2 Q382.3 445.0 383.8 446.3 L385.8 448.0 Q387.3 449.3 389.1 450.1 L391.7 451.4 Q393.5 452.2 395.4 452.7 L400.5 453.9 Q402.4 454.4 404.4 454.2 L406.6 453.9 Q408.6 453.7 410.5 454.3 L412.9 455.0 Q414.8 455.6 416.3 456.9 L417.1 457.4 Q418.6 458.7 416.9 459.8 L416.5 460.1 Q414.8 461.2 416.2 462.6 L416.6 462.9 Q418.0 464.3 419.7 465.4 L423.1 467.6 Q424.8 468.7 426.4 469.9 L429.5 472.5 Q431.1 473.7 432.5 475.1 L434.0 476.7 Q435.4 478.1 435.1 480.0 L435.1 480.0 Q434.8 481.8 433.6 483.1 L433.6 483.1 Q432.3 484.3 433.6 485.8 L434.7 487.2 Q436.0 488.7 437.2 490.3 L438.0 491.4 Q439.2 493.0 438.9 495.0 L438.8 496.0 Q438.5 498.0 436.8 499.1 L435.3 500.0 Q433.6 501.1 431.6 501.4 L426.8 502.1 Q424.8 502.4 422.8 502.8 L414.4 504.5 Q412.4 504.9 410.5 505.6 L405.5 507.3 Q403.6 508.0 401.6 508.0 L399.4 508.0 Q397.4 508.0 395.5 507.5 L389.3 506.0 Q387.4 505.5 385.6 504.7 L376.7 500.7 Q374.9 499.9 373.1 499.0 L364.3 494.5 Q362.5 493.6 360.7 492.8 L351.8 489.0 Q350.0 488.2 348.2 487.2 L334.2 479.6 Q332.4 478.6 330.6 477.7 L315.5 469.5 Q313.7 468.6 312.0 467.6 L306.1 464.0 Q304.4 463.0 304.0 461.4 L304.0 461.4 Q303.7 459.9 304.8 458.2 Z"/>
<path class="ln"  d="M302.7 461.8 L303.3 463.5 Q303.9 465.2 305.6 466.2 L330.7 480.3 Q332.4 481.3 334.1 482.3 L348.3 490.2 Q350.0 491.2 351.8 492.0 L360.7 496.0 Q362.5 496.8 364.3 497.7 L373.1 502.1 Q374.9 503.0 376.7 503.8 L385.6 507.8 Q387.4 508.6 389.3 509.1 L395.5 510.6 Q397.4 511.1 399.4 511.1 L402.9 511.1 Q404.9 511.1 406.7 510.3 L410.6 508.8 Q412.4 508.0 414.3 507.5 L422.9 505.4 Q424.8 504.9 426.8 504.5 L432.8 503.4 Q434.8 503.0 436.3 501.7 L439.2 499.3"/>
<path class="tk" style="stroke-width:1.45" d="M316.7 450.7 L318.2 449.8 Q319.9 448.7 321.8 448.2 L330.5 446.1 Q332.4 445.6 334.4 445.5 L345.4 445.1 Q347.4 445.0 349.3 445.6 L351.7 446.2 Q353.6 446.8 355.3 447.8 L359.4 450.2 Q361.1 451.2 363.0 451.8 L374.2 455.6 Q376.1 456.2 378.0 456.9 L385.5 459.9 Q387.4 460.6 389.4 460.5 L394.1 460.1 Q396.1 460.0 397.9 460.9 L399.3 461.6 Q401.1 462.5 402.9 463.4 L404.3 464.1 Q406.1 465.0 404.9 466.6 L404.9 466.6 Q403.6 468.1 405.1 469.4 L407.1 471.1 Q408.6 472.4 410.0 473.8 L413.4 477.3 Q414.8 478.7 416.2 480.1 L419.7 483.5 Q421.1 484.9 422.5 486.3 L424.7 488.5 Q426.1 489.9 426.4 491.4 L426.4 491.4 Q426.7 493.0 425.2 494.3 L423.8 495.5 Q422.3 496.8 420.4 497.3 L414.3 498.8 Q412.4 499.3 410.4 499.5 L401.9 500.3 Q399.9 500.5 397.9 500.4 L391.9 500.0 Q389.9 499.9 387.9 499.5 L385.7 499.0 Q383.7 498.6 383.0 496.7 L382.5 495.5 Q381.8 493.6 381.1 491.7 L380.6 490.6 Q379.9 488.7 378.0 488.0 L376.8 487.5 Q374.9 486.8 373.0 486.1 L364.4 483.1 Q362.5 482.4 360.6 481.7 L351.9 478.8 Q350.0 478.1 348.2 477.2 L346.7 476.4 Q344.9 475.5 343.2 474.4 L339.1 471.6 Q337.4 470.5 336.3 468.8 L334.8 466.6 Q333.7 464.9 333.4 463.0 L333.4 463.0 Q333.0 461.2 331.4 459.9 L331.4 459.9 Q329.9 458.7 328.0 458.0 L321.8 455.6 Q319.9 454.9 318.0 454.4 L317.5 454.2 Q315.6 453.7 315.3 452.8 L315.3 452.8 Q315.0 451.8 316.7 450.7 Z"/>
<path class="tn"  d="M317.5 453.0 L318.9 451.9 Q320.4 450.7 322.3 450.2 L331.0 448.1 Q332.9 447.6 334.9 447.5 L345.9 447.1 Q347.9 447.0 349.8 447.6 L352.2 448.2 Q354.1 448.8 355.8 449.8 L359.9 452.2 Q361.6 453.2 363.5 453.8 L374.7 457.6 Q376.6 458.2 378.5 458.9 L386.0 461.9 Q387.9 462.6 389.9 462.5 L394.6 462.1 Q396.6 462.0 398.4 462.9 L399.8 463.6 Q401.6 464.5 403.3 465.5 L405.0 466.5"/>
<path class="tn"  d="M402.9 469.5 L405.5 471.9 Q406.9 473.3 408.3 474.7 L411.7 478.2 Q413.1 479.6 414.5 481.0 L418.0 484.4 Q419.4 485.8 420.8 487.2 L423.0 489.4 Q424.4 490.8 424.8 492.1 L425.2 493.5"/>
<g transform="translate(315.0,461.4) rotate(20)"><ellipse class="tk" cx="0" cy="0" rx="5.4" ry="2.7"/><path class="ln" d="M-3.4 1.0 C-2.8 -1.0 2.3 -1.2 3.9 0.7"/></g>
<g transform="translate(369.2,447.2) rotate(20)"><ellipse class="tk" cx="0" cy="0" rx="5.4" ry="2.7"/><path class="ln" d="M-3.4 1.0 C-2.8 -1.0 2.3 -1.2 3.9 0.7"/></g>
<g transform="translate(422.3,475.6) rotate(20)"><ellipse class="tk" cx="0" cy="0" rx="5.4" ry="2.7"/><path class="ln" d="M-3.4 1.0 C-2.8 -1.0 2.3 -1.2 3.9 0.7"/></g>
<g transform="translate(368.1,492.4) rotate(20)"><ellipse class="tk" cx="0" cy="0" rx="5.4" ry="2.7"/><path class="ln" d="M-3.4 1.0 C-2.8 -1.0 2.3 -1.2 3.9 0.7"/></g>
<path class="lw" d="M237.50 379.90 L278.60 355.60 C280.80 354.30 284.47 360.49 282.26 361.80 L241.16 386.10 C238.96 387.40 235.30 381.20 237.50 379.90 Z"/>
<path class="th" style="stroke-width:1.25;stroke:#111" d="M239.14 378.93 L241.94 385.64 M241.03 377.81 L243.83 384.52 M242.92 376.69 L245.73 383.40 M244.82 375.57 L247.62 382.28 M246.71 374.45 L249.51 381.16 M248.60 373.33 L251.41 380.04"/>
<path class="th" style="stroke-width:1.25;stroke:#111" d="M268.36 361.66 L271.16 368.36 M270.25 360.54 L273.05 367.24 M272.14 359.42 L274.95 366.12 M274.04 358.30 L276.84 365.00 M275.93 357.18 L278.74 363.88 M277.83 356.06 L280.63 362.76"/>
<path class="lw" d="M270.00 438.00 L311.10 413.70 C313.30 412.40 316.97 418.59 314.76 419.90 L273.66 444.20 C271.46 445.50 267.80 439.30 270.00 438.00 Z"/>
<path class="th" style="stroke-width:1.25;stroke:#111" d="M271.64 437.03 L274.44 443.74 M273.53 435.91 L276.33 442.62 M275.42 434.79 L278.23 441.50 M277.32 433.67 L280.12 440.38 M279.21 432.55 L282.01 439.26 M281.10 431.43 L283.91 438.14"/>
<path class="th" style="stroke-width:1.25;stroke:#111" d="M300.86 419.76 L303.66 426.46 M302.75 418.64 L305.55 425.34 M304.64 417.52 L307.45 424.22 M306.54 416.40 L309.34 423.10 M308.43 415.28 L311.24 421.98 M310.33 414.16 L313.13 420.86"/>
<path class="lw" d="M190.00 265.50 L205.50 257.20 C207.76 255.99 210.78 261.63 208.52 262.84 L193.02 271.14 C190.76 272.35 187.74 266.71 190.00 265.50 Z"/>
<path class="th" style="stroke-width:1.25;stroke:#111" d="M191.71 264.58 L193.85 270.70 M193.72 263.51 L195.86 269.62 M195.74 262.43 L197.88 268.54 M197.75 261.35 L199.89 267.46 M199.76 260.27 L201.90 266.39 M201.78 259.19 L203.92 265.31"/>
<path class="lw" d="M211.50 254.20 L229.90 241.80 C232.02 240.37 235.60 245.68 233.48 247.11 L215.08 259.51 C212.95 260.94 209.38 255.63 211.50 254.20 Z"/>
<path class="th" style="stroke-width:1.25;stroke:#111" d="M217.08 250.44 L219.83 256.30 M218.81 249.27 L221.56 255.14 M220.54 248.10 L223.29 253.97 M222.28 246.94 L225.02 252.80 M224.01 245.77 L226.75 251.64 M225.74 244.60 L228.49 250.47 M227.47 243.44 L230.22 249.30 M229.20 242.27 L231.95 248.14"/>
<g transform="translate(208.2,258.8) rotate(-31)"><ellipse class="lw" cx="0.8" cy="0" rx="4.6" ry="7.8"/><ellipse class="lw" cx="-0.8" cy="0" rx="4.4" ry="7.6"/><ellipse class="ln" cx="-1" cy="0" rx="2.2" ry="4.2"/></g>
<g class="lb">
<text x="615.7" y="54.9">8</text>
<text x="649.5" y="106.8">5</text>
<text x="714" y="93.8">5</text>
<text x="780.5" y="134.2">5</text>
<text x="842" y="122.3">5</text>
<text x="314.8" y="133.7">3</text>
<text x="204.5" y="218">6</text>
<text x="548" y="251.2">4</text>
<text x="567" y="332.7">1</text>
<text x="257" y="333">7</text>
<text x="286.7" y="480.3">7</text>
<text x="483.8" y="503.4">2</text>
</g>
<g class="ld">
<path d="M579.3 48 L606 48.5"/>
<path d="M659.2 101 L689.1 101"/>
<path d="M722.8 87.3 L745.3 87.3"/>
<path d="M756.5 127.3 L774 127.3"/>
<path d="M805.1 115.3 L835 115.3"/>
<path d="M321 126.9 L360.3 126.9"/>
<path d="M205.8 221.9 L205.8 251"/>
<path d="M512.3 245 L541 245" stroke-dasharray="1.2 5"/>
<path d="M528 326.4 L558.5 326.6" stroke-dasharray="4 1.2"/>
<path d="M256.2 337.4 L256.2 367.3"/>
<path d="M285.4 437.4 L285.4 463.6" stroke-dasharray="4 1.5"/>
<path d="M412 496.8 L476.5 497.4" stroke-dasharray="5 1.3"/>
</g>
<g class="ln">
<path d="M254.4 192 L254.4 288.5 L168.6 288.5" style="stroke-width:1.5;stroke:#000;stroke-linejoin:miter;stroke-linecap:butt"/>
</g>
<text class="ft" x="336" y="508.7">Page design © 2004 - 2016 by ARI Network Services, Inc.</text>
<g>
<path d="M1.2 520.5 L5.6 504.9 L8.7 507.6 L30.5 495.5 L37.4 508 L17.5 518.6 L16.2 524.2 Z" fill="#0a0a0a" stroke="#0a0a0a" stroke-width="0.8" stroke-linejoin="round"/>
<text transform="translate(37.6,505.2) rotate(-26.5)" style="font-family:'Liberation Sans',sans-serif;font-weight:bold;font-size:17.5px;letter-spacing:2.6px;fill:#0a0a0a;stroke:#0a0a0a;stroke-width:0.6px;">FR.</text>
</g>

</svg>
</body></html>
